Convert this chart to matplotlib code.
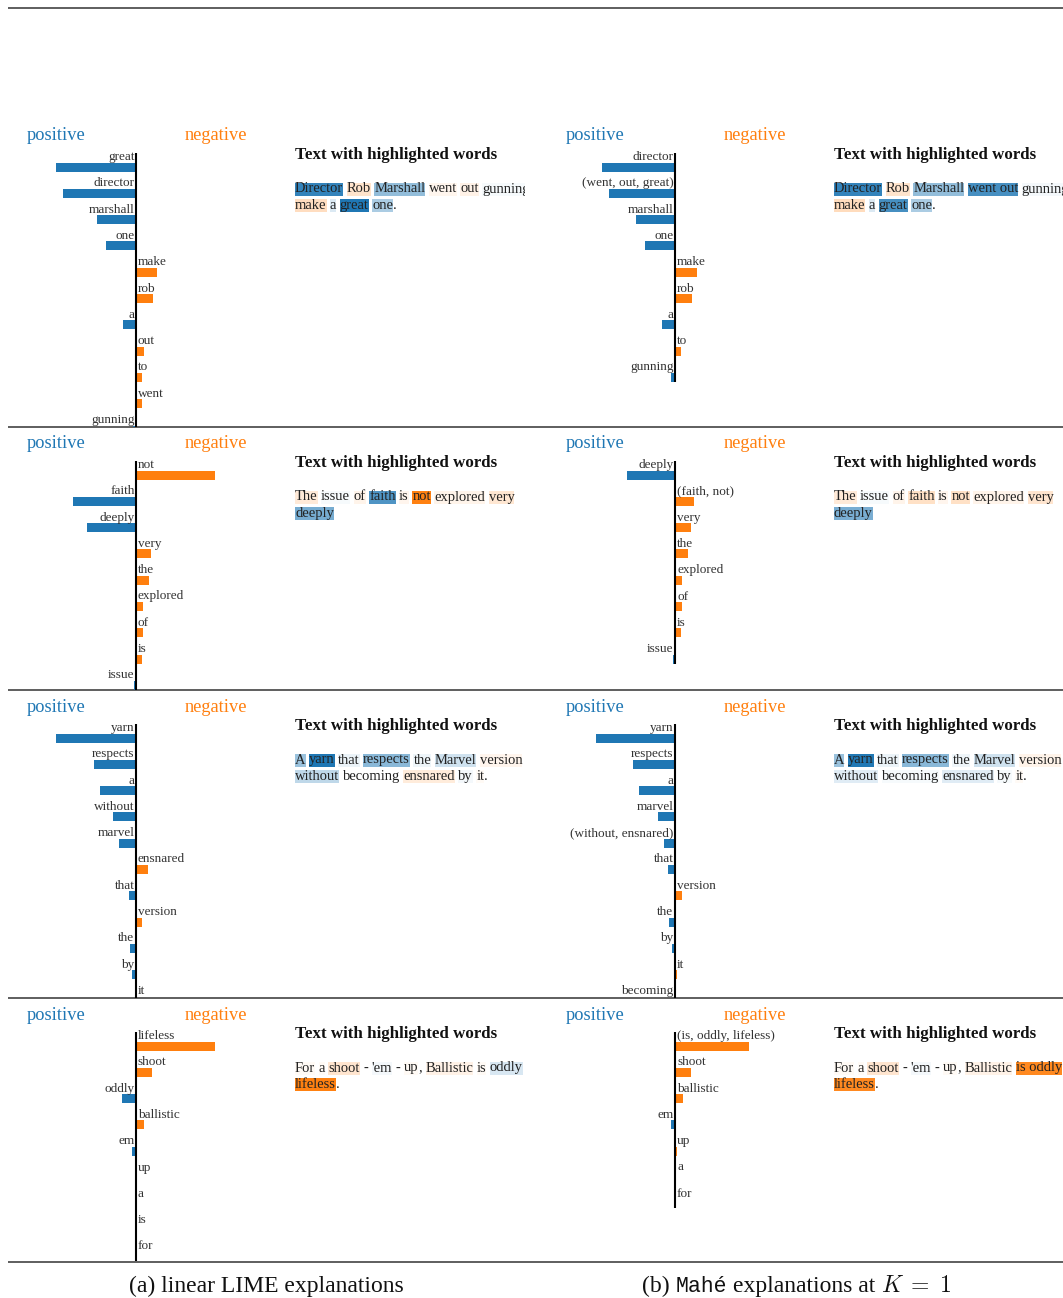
import matplotlib
matplotlib.use("Agg")
import matplotlib.pyplot as plt
import numpy as np
from matplotlib.colors import to_rgb

plt.rcParams['font.family'] = ['Liberation Serif', 'DejaVu Serif']
plt.rcParams['mathtext.fontset'] = 'cm'

W, H = 1063, 1298
BLUE = '#1f77b4'
ORANGE = '#ff7f0e'

# weights: > 0 supports "positive" (blue, drawn to the left), < 0 "negative"
lime_labels_1 = ['great', 'director', 'marshall', 'one', 'make', 'rob', 'a', 'out', 'to', 'went', 'gunning']
lime_weights_1 = [0.080, 0.073, 0.039, 0.030, -0.021, -0.017, 0.013, -0.008, -0.006, -0.0055, 0.003]
mahe_labels_1 = ['director', '(went, out, great)', 'marshall', 'one', 'make', 'rob', 'a', 'to', 'gunning']
mahe_weights_1 = [0.073, 0.066, 0.039, 0.030, -0.022, -0.017, 0.013, -0.006, 0.004]
text_1 = ['Director Rob Marshall went out gunning', 'make a great one.']

lime_labels_2 = ['not', 'faith', 'deeply', 'very', 'the', 'explored', 'of', 'is', 'issue']
lime_weights_2 = [-0.079, 0.063, 0.049, -0.015, -0.013, -0.007, -0.007, -0.006, 0.002]
mahe_labels_2 = ['deeply', '(faith, not)', 'very', 'the', 'explored', 'of', 'is', 'issue']
mahe_weights_2 = [0.048, -0.019, -0.016, -0.013, -0.007, -0.007, -0.006, 0.002]
text_2 = ['The issue of faith is not explored very', 'deeply']

lime_labels_3 = ['yarn', 'respects', 'a', 'without', 'marvel', 'ensnared', 'that', 'version', 'the', 'by', 'it']
lime_weights_3 = [0.080, 0.042, 0.036, 0.023, 0.017, -0.012, 0.007, -0.006, 0.006, 0.004, -0.001]
mahe_labels_3 = ['yarn', 'respects', 'a', 'marvel', '(without, ensnared)', 'that', 'version', 'the', 'by', 'it', 'becoming']
mahe_weights_3 = [0.079, 0.042, 0.036, 0.017, 0.011, 0.007, -0.007, 0.006, 0.003, -0.002, 0.0005]
text_3 = ['A yarn that respects the Marvel version', 'without becoming ensnared by it.']

lime_labels_4 = ['lifeless', 'shoot', 'oddly', 'ballistic', 'em', 'up', 'a', 'is', 'for']
lime_weights_4 = [-0.079, -0.016, 0.014, -0.008, 0.004, -0.001, -0.001, -0.0005, -0.0005]
mahe_labels_4 = ['(is, oddly, lifeless)', 'shoot', 'ballistic', 'em', 'up', 'a', 'for']
mahe_weights_4 = [-0.074, -0.016, -0.008, 0.004, -0.0017, -0.001, -0.0005]
text_4 = ["For a shoot - 'em - up, Ballistic is oddly", 'lifeless.']

caption_a = '(a) linear LIME explanations'

# layout in pixels
HEAD_Y = [136, 444, 707, 1015]
ROW_BOTTOM = [427, 690, 998, 1261]
AXIS_X = [136, 675]
STEP = 26.3
SCALE = 1000.0   # px per weight unit
FS_LABEL = 9.5
FS_TEXT = 10.45

fig = plt.figure(figsize=(W / 100, H / 100), dpi=100)
renderer = fig.canvas.get_renderer()


def px_rect(x0, y0, x1, y1):
    return [x0 / W, 1 - y1 / H, (x1 - x0) / W, (y1 - y0) / H]


def highlight(v):
    a = min(1.0, max(0.04, abs(v) / 0.08))
    rgb = np.array(to_rgb(BLUE if v > 0 else ORANGE))
    return tuple(1 - a * (1 - rgb))


ax0 = fig.add_axes([0, 0, 1, 1])
ax0.set_xlim(0, W)
ax0.set_ylim(H, 0)
ax0.axis('off')
ax0.hlines([8] + ROW_BOTTOM[:3] + [1262], 8, W, color='#333333', lw=1.1)


def bar_panel(axis_x, head_y, bottom, labels, weights):
    left, right = axis_x - 128, axis_x + 144
    top = head_y + 8
    ax = fig.add_axes(px_rect(left, top, right, bottom))
    ax.axis('off')
    c0 = head_y + 21 + 10
    ax.set_xlim((left - axis_x) / SCALE, (right - axis_x) / SCALE)
    ax.set_ylim((bottom - c0) / STEP, (top - c0) / STEP)
    w = np.array(weights)
    n = len(w)
    colors = [BLUE if v > 0 else ORANGE for v in w]
    ax.barh(np.arange(n), -w, height=9 / STEP, color=colors)
    ax.plot([0, 0], [-14 / STEP, n - 1 + 4.5 / STEP], color='black', lw=1.5,
            solid_capstyle='butt')
    for i, (lab, v) in enumerate(zip(labels, w)):
        if v > 0:
            ax.text(-1.5 / SCALE, i - 10 / STEP, lab, ha='right', va='center',
                    fontsize=FS_LABEL, color='#333333', clip_on=True)
        else:
            ax.text(2 / SCALE, i - 10 / STEP, lab, ha='left', va='center',
                    fontsize=FS_LABEL, color='#333333', clip_on=True)
    ax0.text(axis_x - 109, head_y, 'positive', color=BLUE, fontsize=13.2, va='center')
    ax0.text(axis_x + 49, head_y, 'negative', color=ORANGE, fontsize=13.2, va='center')


def text_panel(axis_x, head_y, bottom, lines, labels, weights):
    left = axis_x + 154
    right = min(axis_x + 389, W)
    top = head_y - 12
    ax = fig.add_axes(px_rect(left, top, right, bottom))
    ax.axis('off')
    ax.set_xlim(left, right)
    ax.set_ylim(bottom, top)
    x_start = axis_x + 159
    ax.text(x_start, head_y + 19, 'Text with highlighted words', fontsize=12.2,
            fontweight='bold', va='center', color='#111111', clip_on=True)
    lookup = {}
    for k, (lab, v) in enumerate(zip(labels, weights)):
        if lab.startswith('('):
            for word in lab.strip('()').split(', '):
                lookup[word] = (v, k)
        else:
            lookup[lab] = (v, None)
    space = 0.24 * FS_TEXT * 100 / 72
    for j, line in enumerate(lines):
        y = head_y + 53 + j * 16.8
        chunks = []
        for word in line.split(' '):
            core = word.rstrip('.,')
            punct = word[len(core):]
            v, g = lookup.get(core.lower().strip("'"), (None, None))
            if chunks and g is not None and chunks[-1][2] == g and not chunks[-1][3]:
                chunks[-1][0] += ' ' + core
                chunks[-1][3] = punct
            else:
                chunks.append([core, v, g, punct])
        x = x_start
        for core, v, g, punct in chunks:
            kw = {}
            if v is not None:
                kw['bbox'] = dict(facecolor=highlight(v), edgecolor='none', pad=0)
            t = ax.text(x, y, core, va='center', fontsize=FS_TEXT, color='#222222',
                        clip_on=True, **kw)
            x += t.get_window_extent(renderer).width
            if punct:
                t = ax.text(x, y, punct, va='center', fontsize=FS_TEXT, color='#222222',
                            clip_on=True)
                x += t.get_window_extent(renderer).width
            x += space


rows = [
    (lime_labels_1, lime_weights_1, mahe_labels_1, mahe_weights_1, text_1),
    (lime_labels_2, lime_weights_2, mahe_labels_2, mahe_weights_2, text_2),
    (lime_labels_3, lime_weights_3, mahe_labels_3, mahe_weights_3, text_3),
    (lime_labels_4, lime_weights_4, mahe_labels_4, mahe_weights_4, text_4),
]
for r, (ll, lw_, ml, mw, txt) in enumerate(rows):
    bar_panel(AXIS_X[0], HEAD_Y[r], ROW_BOTTOM[r], ll, lw_)
    text_panel(AXIS_X[0], HEAD_Y[r], ROW_BOTTOM[r], txt, ll, lw_)
    bar_panel(AXIS_X[1], HEAD_Y[r], ROW_BOTTOM[r], ml, mw)
    text_panel(AXIS_X[1], HEAD_Y[r], ROW_BOTTOM[r], txt, ml, mw)

# captions
cap_y = 1292
FS_CAP = 17
parts = [('(b)', 'Liberation Serif', FS_CAP), ('Mahé', 'Liberation Mono', 15.5),
         ('explanations at', 'Liberation Serif', FS_CAP),
         (r'$K\;=\;1$', 'Liberation Serif', FS_CAP)]
ax0.text(266.5, cap_y, caption_a, ha='center', va='baseline', fontsize=FS_CAP, color='#111111')
sp = 0.25 * FS_CAP * 100 / 72
widths = []
for s, fam, fs in parts:
    t = ax0.text(0, cap_y, s, family=fam, fontsize=fs)
    widths.append(t.get_window_extent(renderer).width)
    t.remove()
x = 796.5 - (sum(widths) + sp * (len(parts) - 1)) / 2
for (s, fam, fs), wd in zip(parts, widths):
    ax0.text(x, cap_y, s, family=fam, fontsize=fs, va='baseline', color='#111111')
    x += wd + sp

fig.savefig('out.png', dpi=100)
